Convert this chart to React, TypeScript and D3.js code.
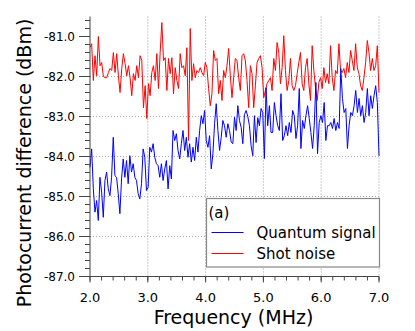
import React from "react";
import * as d3 from "d3";

// Shot noise (red), sampled uniformly from 2.0 to 7.0 MHz
const shotNoise: number[] = [
  -81.27, -81.18, -82.1, -81.48, -81.98, -81.0, -81.73, -81.65, -82.0, -82.03,
  -82.03, -81.9, -81.8, -81.85, -81.4, -81.9, -81.43, -81.98, -82.4, -81.8,
  -81.43, -81.68, -81.98, -81.73, -82.03, -82.48, -81.93, -82.1, -81.73, -82.03,
  -81.48, -81.6, -82.78, -82.23, -83.05, -82.18, -82.48, -81.9, -81.73, -82.1,
  -81.43, -82.3, -81.4, -80.65, -81.6, -81.53, -82.35, -81.55, -81.93, -81.53,
  -82.43, -81.78, -82.1, -82.3, -81.43, -81.78, -81.73, -81.98, -81.28, -83.6,
  -80.8, -82.1, -81.68, -82.03, -81.85, -81.9, -81.78, -81.9, -81.98, -81.65,
  -81.78, -82.3, -82.73, -82.43, -81.35, -81.6, -81.55, -82.43, -82.1, -82.6,
  -81.85, -82.03, -81.73, -81.3, -81.98, -82.53, -82.03, -81.55, -81.6, -82.03,
  -82.35, -81.48, -81.43, -81.6, -82.1, -82.78,
  -81.73, -81.93, -82.78, -82.23, -81.65, -81.55, -81.48, -81.78, -82.53, -82.35,
  -82.18, -82.1, -82.03, -82.35, -81.55, -81.85, -81.15, -81.4, -82.18, -81.78,
  -80.98, -81.85, -82.35, -82.1, -81.55, -82.23, -82.35, -82.23, -81.93, -81.65,
  -81.4, -82.18, -82.35, -81.78, -81.55, -82.18, -82.6, -81.23, -81.85, -82.28,
  -82.6, -82.15, -82.03, -82.3, -81.78, -82.15, -81.93, -82.18, -81.23, -82.03,
  -82.35, -81.85, -81.93, -81.18, -81.85, -81.9, -81.8, -82.03, -81.65, -81.9,
  -81.35, -81.6, -81.85, -81.18, -81.78, -81.93, -82.23, -82.35, -82.03, -81.65,
  -81.1, -81.4, -81.85, -81.55, -81.85, -81.73, -81.23, -82.4,
];

// Quantum signal (blue), sampled uniformly from 2.0 to 7.0 MHz
const quantumSignal: number[] = [
  -84.27, -83.81, -84.81, -85.39, -85.1, -85.6, -84.52, -84.89, -85.52, -84.6,
  -84.39, -84.81, -84.98, -84.52, -83.52, -84.48, -84.52, -84.93, -85.43, -84.56,
  -84.06, -84.52, -84.1, -84.68, -83.98, -84.39, -84.18, -84.52, -84.6, -84.93,
  -85.06, -84.68, -83.81, -84.02, -84.85, -84.77, -83.77, -83.89, -83.68, -84.02,
  -84.18, -84.23, -84.52, -84.18, -84.6, -84.31, -84.1, -84.81, -84.23, -84.56,
  -83.35, -83.6, -83.43, -83.85, -84.06, -83.68, -83.35, -83.85, -83.52, -84.02,
  -83.68, -84.14, -83.77, -84.1, -83.52, -83.89, -83.35, -82.98, -83.18, -82.85,
  -83.6, -83.77, -83.48, -84.31, -83.93, -83.18, -82.68, -83.35, -83.85, -83.52,
  -83.1, -83.23, -83.52, -83.18, -83.35, -83.64, -83.68, -83.02, -83.35, -82.73,
  -83.1, -83.27, -83.68, -82.95, -82.85, -83.0,
  -83.23, -83.73, -83.98, -82.98, -83.65, -83.03, -83.23, -82.8, -82.9, -84.05,
  -82.28, -83.23, -82.73, -83.4, -83.4, -82.65, -82.98, -83.23, -83.35, -82.43,
  -83.6, -83.48, -83.23, -83.48, -83.15, -83.4, -82.85, -82.98, -83.55, -83.23,
  -82.3, -83.8, -83.1, -83.3, -82.98, -82.73,
  -83.05, -83.4, -83.8, -83.23, -82.15, -83.93, -83.15, -82.98, -83.15, -82.65,
  -83.6, -83.23, -83.23, -83.15, -83.3, -83.05, -83.35, -83.15, -83.3, -81.8,
  -82.55, -82.9, -82.8, -83.8, -83.23, -82.9, -82.98, -82.73, -82.35, -82.9,
  -82.55, -82.98, -82.73, -83.15, -82.9, -82.3, -82.98, -82.48, -82.8, -82.48,
  -82.23, -82.65, -83.98,
];

const xTicks = [2, 3, 4, 5, 6, 7];
const yTicks = [-87, -86, -85, -84, -83, -82, -81];
const legendLabels = ["Quantum signal", "Shot noise"];
const seriesColors = ["#0000ff", "#ff0000"];

const FONT = "'DejaVu Sans', Verdana, sans-serif";

export default function App() {
  const W = 415, H = 331;
  const x = d3.scaleLinear().domain([2, 7]).range([90, 379]);
  const y = d3.scaleLinear().domain([-87, -80.5]).range([276.5, 16.5]);

  const toPts = (vals: number[]) =>
    vals.map((v, i) => [2 + (5 * i) / (vals.length - 1), v] as [number, number]);
  const line = d3
    .line<[number, number]>()
    .x((d) => x(d[0]))
    .y((d) => y(d[1]));

  const xMinor = d3.range(2, 7.001, 0.2);
  const yMinor = d3.range(-87, -80.55, 0.2);

  const x0 = x(2), yBot = y(-87);

  return (
    <svg width={W} height={H} style={{ position: "absolute", left: 0, top: 0, background: "#fff" }}>
      {/* grid */}
      {xTicks.slice(1).map((t) => (
        <line key={"gx" + t} x1={x(t)} x2={x(t)} y1={y(-80.5)} y2={yBot}
          stroke="#999" strokeWidth={1} strokeDasharray="1,2" />
      ))}
      {yTicks.slice(1, -1).map((t) => (
        <line key={"gy" + t} x1={x0} x2={x(7)} y1={y(t)} y2={y(t)}
          stroke="#aaa" strokeWidth={1} strokeDasharray="1,2" />
      ))}

      {/* series */}
      <path d={line(toPts(shotNoise)) || ""} fill="none" stroke={seriesColors[1]} strokeWidth={1} />
      <path d={line(toPts(quantumSignal)) || ""} fill="none" stroke={seriesColors[0]} strokeWidth={1} />

      {/* axes */}
      <line x1={x0} x2={x0} y1={y(-80.5)} y2={yBot} stroke="#444" strokeWidth={1} />
      <line x1={x0} x2={x(7)} y1={yBot} y2={yBot} stroke="#444" strokeWidth={1} />
      {yMinor.map((t, i) => (
        <line key={"ym" + i} x1={x0 - 5} x2={x0} y1={y(t)} y2={y(t)} stroke="#444" strokeWidth={1} />
      ))}
      {yTicks.map((t) => (
        <g key={"yt" + t}>
          <line x1={x0 - 11} x2={x0} y1={y(t)} y2={y(t)} stroke="#444" strokeWidth={1} />
          <text x={75} y={y(t)} dy="0.35em" textAnchor="end" fontFamily={FONT} fontSize={12} fill="#000">
            {t.toFixed(1)}
          </text>
        </g>
      ))}
      {xMinor.map((t, i) => (
        <line key={"xm" + i} x1={x(t)} x2={x(t)} y1={yBot} y2={yBot + 4} stroke="#444" strokeWidth={1} />
      ))}
      {xTicks.map((t) => (
        <g key={"xt" + t}>
          <line x1={x(t)} x2={x(t)} y1={yBot} y2={yBot + 6} stroke="#444" strokeWidth={1} />
          <text x={x(t)} y={301.5} textAnchor="middle" fontFamily={FONT} fontSize={13} fill="#000">
            {t.toFixed(1)}
          </text>
        </g>
      ))}

      {/* axis titles */}
      <text x={233.5} y={323.5} textAnchor="middle" fontFamily={FONT} fontSize={19} fill="#000">
        Frequency (MHz)
      </text>
      <text transform="translate(31,163) rotate(-90)" textAnchor="middle" fontFamily={FONT} fontSize={19} fill="#000">
        Photocurrent difference (dBm)
      </text>

      {/* legend */}
      <rect x={206.5} y={198.5} width={173} height={68.5} fill="#fff" stroke="#888" strokeWidth={1.2} />
      <text x={208.5} y={218} fontFamily={FONT} fontSize={15} fill="#000">(a)</text>
      {legendLabels.map((lab, i) => (
        <g key={lab}>
          <line x1={211.5} x2={243.5} y1={232.5 + i * 21} y2={232.5 + i * 21} stroke={seriesColors[i]} strokeWidth={1} />
          <text x={256.5} y={237.5 + i * 21} fontFamily={FONT} fontSize={15} fill="#000">{lab}</text>
        </g>
      ))}
    </svg>
  );
}
